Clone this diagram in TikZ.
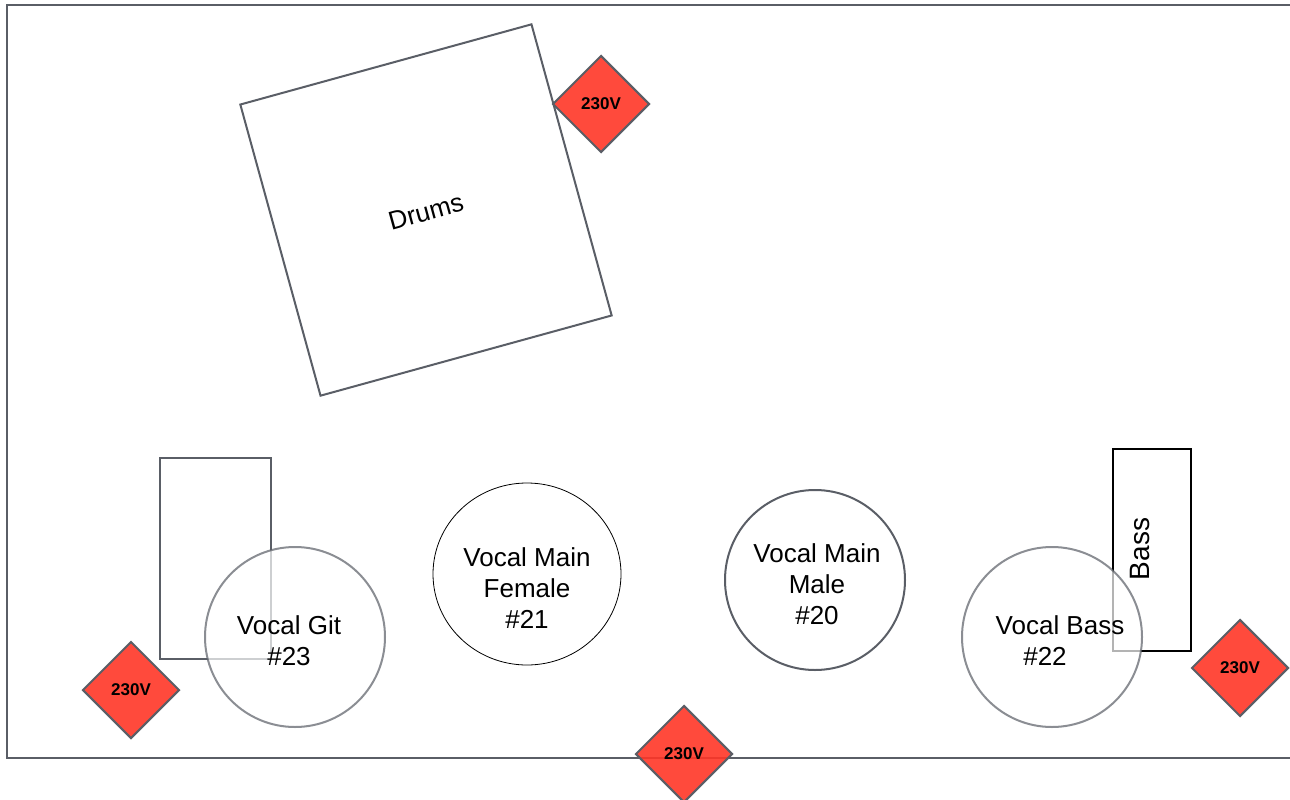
\documentclass[tikz,border=0pt]{standalone}
\usepackage{fontspec}
\setmainfont{Liberation Sans}
\usetikzlibrary{shapes.geometric}
\definecolor{edge}{HTML}{5A5E66}
\definecolor{plug}{HTML}{FF3627}
\begin{document}
\begin{tikzpicture}[x=1pt,y=-1pt,
  frameline/.style={draw=edge, line width=2.4pt},
  power/.style={diamond, aspect=1, draw=edge, line width=2pt, fill=plug, fill opacity=0.9, text opacity=1,
    minimum width=97pt, minimum height=97pt, inner sep=0pt, font=\bfseries\fontsize{17}{17}\selectfont},
  mic/.style={circle, draw=edge, line width=2pt, fill=white, minimum size=180pt, inner sep=0pt},
  faded/.style={draw opacity=0.7, fill opacity=0.7},
  lbl/.style={align=center, font=\fontsize{26}{31}\selectfont, inner sep=0pt},
  ampbox/.style={draw=edge, line width=2pt, inner sep=0pt}]
\useasboundingbox (0,0) rectangle (1290,800);
% stage frame
\draw[frameline] (1296,5) -- (7,5) -- (7,758) -- (1296,758);
% drums
\node[draw=edge, line width=2pt, minimum size=302pt, inner sep=0pt, rotate=15.4] (drums) at (426,210) {};
\node[rotate=15.4, font=\fontsize{26}{30}\selectfont, inner sep=0pt] (drumslbl) at (426,212) {Drums};
% amps
\node[ampbox, minimum width=111pt, minimum height=201pt] (gitamp) at (215.5,558.5) {};
\node[ampbox, draw=black, minimum width=78pt, minimum height=202pt] (bassamp) at (1152,550) {};
\node[rotate=90, align=center, inner sep=0pt, font=\fontsize{28}{31}\selectfont] (basslbl) at (1140,549) {Bass};
% microphones
\node[mic, faded] (git) at (295,637) {};
\node[lbl] (gitlbl) at (289,641) {Vocal Git\\\#23};
\node[ellipse, draw=black, line width=0.8pt, fill=white, minimum width=188pt, minimum height=182pt, inner sep=0pt] (female) at (527,574) {};
\node[lbl] (femalelbl) at (527,588) {Vocal Main\\Female\\\#21};
\node[mic] (male) at (815,580) {};
\node[lbl] (malelbl) at (817,584) {Vocal Main\\Male\\\#20};
\node[mic, faded] (vbass) at (1052,637) {};
\node[lbl] (vbasslbl) at (1060,641) {Vocal Bass\\\#22\hspace*{30pt}};
% power outlets
\node[power] (p1) at (601,104) {230V};
\node[power] (p2) at (131,690) {230V};
\node[power] (p3) at (684,754) {230V};
\node[power] (p4) at (1240,668) {230V};
\end{tikzpicture}
\end{document}
